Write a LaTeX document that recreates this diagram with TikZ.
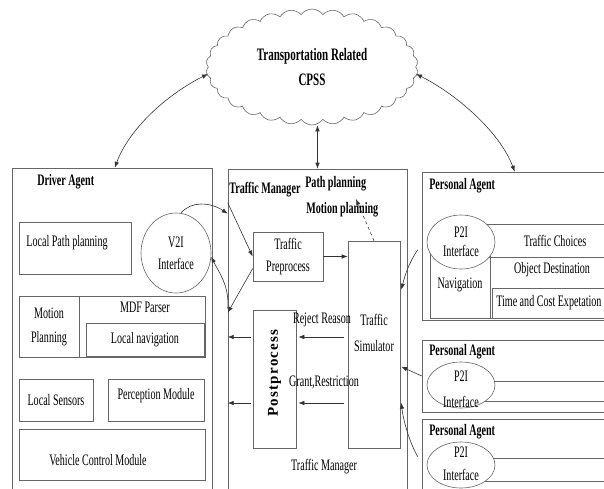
\documentclass[tikz,border=0pt]{standalone}
\usepackage{fontspec}
\setmainfont{Liberation Serif}[FakeStretch=0.63]
\newfontfamily\spacedfont{Liberation Serif}[LetterSpace=8]
\usetikzlibrary{shapes.symbols, shapes.geometric, arrows.meta, positioning}

\begin{document}
\begin{tikzpicture}[x=1pt, y=-1pt, line width=0.6pt, >={Latex[length=6pt,width=4.5pt]},
    every node/.style={inner sep=0pt, font=\fontsize{16}{22}\selectfont},
    box/.style={draw=black!60, rectangle, align=center},
    bubble/.style={draw=black!60, ellipse, fill=white, align=center},
    title/.style={font=\bfseries\fontsize{16}{22}\selectfont, anchor=west},
    arr/.style={draw=black!80, ->},
    darr/.style={draw=black!80, <->}]

  \useasboundingbox (0,0) rectangle (604,488);
  \clip (0,0) rectangle (604,488);

  % cloud
  \node[cloud, draw=black!60, fill=white, cloud puffs=30, cloud puff arc=110, aspect=1.8,
        minimum width=212pt, minimum height=116pt, align=center,
        font=\bfseries\fontsize{17.5}{25}\selectfont] (cpss) at (312,67) {Transportation Related\\CPSS};

  % driver agent
  \node[box, minimum width=200pt, minimum height=352pt] (drv) at (112,344) {};
  \node[title] (drvt) at (37,182) {Driver Agent};
  \node[box, minimum width=112pt, minimum height=52pt] (lpp) at (75,248) {};
  \node (lppt) at (67,243) {Local Path planning};
  \node[bubble, minimum width=70pt, minimum height=80pt] (v2i) at (176,253) {V2I\\Interface};
  \node[box, minimum width=126pt, minimum height=61pt] (mdf) at (142,326.5) {};
  \node[box, minimum width=60pt, minimum height=61pt, font=\fontsize{16}{24}\selectfont] (mp) at (49,326.5) {Motion\\Planning};
  \node (mdft) at (145,307) {MDF Parser};
  \node[box, minimum width=118pt, minimum height=33pt] (lnav) at (145,339.5) {Local navigation};
  \node[box, minimum width=74pt, minimum height=42pt] (ls) at (56,400) {Local Sensors};
  \node[box, minimum width=96pt, minimum height=42pt] (pm) at (156,400) {};
  \node (pmt) at (156,396) {Perception Module};
  \node[box, minimum width=186pt, minimum height=51pt] (vcm) at (112,454.5) {};
  \node (vcmt) at (98,460) {Vehicle Control Module};

  % traffic manager
  \node[box, minimum width=179pt, minimum height=351pt] (tm) at (317.5,344.5) {};
  \node[title] (tmt) at (229,190) {Traffic Manager};
  \node[title] (pathp) at (305,184) {Path planning};
  \node[title] (motp) at (306,210) {Motion planning};
  \node[box, minimum width=70pt, minimum height=49pt] (pre) at (288,256.5) {Traffic\\Preprocess};
  \node[box, minimum width=52pt, minimum height=207pt] (sim) at (374,344.5) {};
  \node[align=center, font=\fontsize{16}{26}\selectfont] (simt) at (374,333) {Traffic\\Simulator};
  \node[box, minimum width=43pt, minimum height=138pt] (post) at (274.5,379) {};
  \node[rotate=90, font=\spacedfont\bfseries\fontsize{15}{15}\selectfont] (postt) at (274.5,373) {Postprocess};
  \node (rejt) at (322,320) {Reject Reason};
  \node (grt) at (324,382) {Grant,Restriction};
  \node (tmb) at (324,467) {Traffic Manager};

  % personal agents
  \node[box, minimum width=218pt, minimum height=148pt] (pa1) at (531,246) {};
  \node[title] (pa1t) at (429,186) {Personal Agent};
  \node[box, minimum width=170pt, minimum height=33pt] (tc) at (555,240.5) {Traffic Choices};
  \node[box, minimum width=150pt, minimum height=61pt] (od) at (565,287.5) {};
  \node (odt) at (552,270) {Object Destination};
  \node[box, minimum width=149pt, minimum height=30pt] (tcx) at (566.5,303) {};
  \node[anchor=west] (tcxt) at (496,303) {Time and Cost Expetation};
  \node[box, minimum width=60pt, minimum height=66pt] (nav) at (460,285) {Navigation};
  \node[bubble, minimum width=68pt, minimum height=54pt, font=\fontsize{16}{19}\selectfont] (p2ia) at (461,242) {P2I\\Interface};

  \node[box, minimum width=218pt, minimum height=72pt] (pa2) at (531,376) {};
  \node[title] (pa2t) at (429,352) {Personal Agent};
  \node[box, minimum width=170pt, minimum height=20pt] (pb) at (555,391) {};
  \node[bubble, minimum width=68pt, minimum height=46pt] (p2ib) at (461,385) {};
  \node[align=center, font=\fontsize{16}{26}\selectfont] (p2ibt) at (461,389) {P2I\\Interface};

  \node[box, minimum width=218pt, minimum height=101pt] (pa3) at (531,469.5) {};
  \node[title] (pa3t) at (429,432) {Personal Agent};
  \node[box, minimum width=170pt, minimum height=23pt] (pc) at (555,469.5) {};
  \node[bubble, minimum width=68pt, minimum height=46pt] (p2ic) at (461,465) {};
  \node[align=center, font=\fontsize{16}{23}\selectfont] (p2ict) at (461,464) {P2I\\Interface};

  % links to the cloud
  \draw[darr] ([xshift=103pt]drv.north west) .. controls +(15,-40) and +(-40,20) .. ([yshift=-7pt]cpss.west);
  \draw[darr] ([xshift=93pt]pa1.north west) .. controls +(-15,-40) and +(40,20) .. ([yshift=-7pt]cpss.east);
  \draw[darr] (tm.north |- cpss.south) -- (tm.north);

  % driver agent <-> traffic manager
  \draw[arr] (v2i.83) .. controls +(10,-12) and +(-18,-12) .. ([yshift=-45pt]tm.north west);
  \draw[arr] ([yshift=-34pt]tm.north west) -- (pre.west);
  \draw[arr] ([yshift=-12pt]pre.west) -- ([yshift=-144pt]tm.north west);
  \draw[arr] ([yshift=-140pt]tm.north west) .. controls +(2,-22) and +(8,16) .. (v2i.-6);

  % inside the traffic manager
  \coordinate (mpt) at (356,199);
  \coordinate (rj) at ([yshift=42pt]post.east);
  \coordinate (gr) at ([yshift=-24pt]post.east);
  \draw[arr] (pre.east) -- (pre.east -| sim.west);
  \draw[arr, dashed] (sim.north) -- (mpt);
  \draw[arr] ([xshift=-4pt]sim.west |- rj) -- ([xshift=2pt]rj);
  \draw[arr] ([xshift=-4pt]sim.west |- gr) -- ([xshift=2pt]gr);
  \draw[arr] ([xshift=-2pt]post.west |- rj) -- (tm.west |- rj);
  \draw[arr] ([xshift=-2pt]post.west |- gr) -- (tm.west |- gr);

  % personal agents -> simulator
  \draw[arr] ([xshift=-4pt,yshift=-78pt]pa1.north west) .. controls +(-8,12) and +(4,-16) .. ([xshift=1pt,yshift=-49pt]sim.north east);
  \draw[arr] (pa2.west) -- ([xshift=1pt,yshift=-126pt]sim.north east);
  \draw[arr] ([xshift=-4pt,yshift=-38pt]pa3.north west) .. controls +(-8,-14) and +(2,18) .. ([xshift=1pt,yshift=-162pt]sim.north east);
\end{tikzpicture}
\end{document}
